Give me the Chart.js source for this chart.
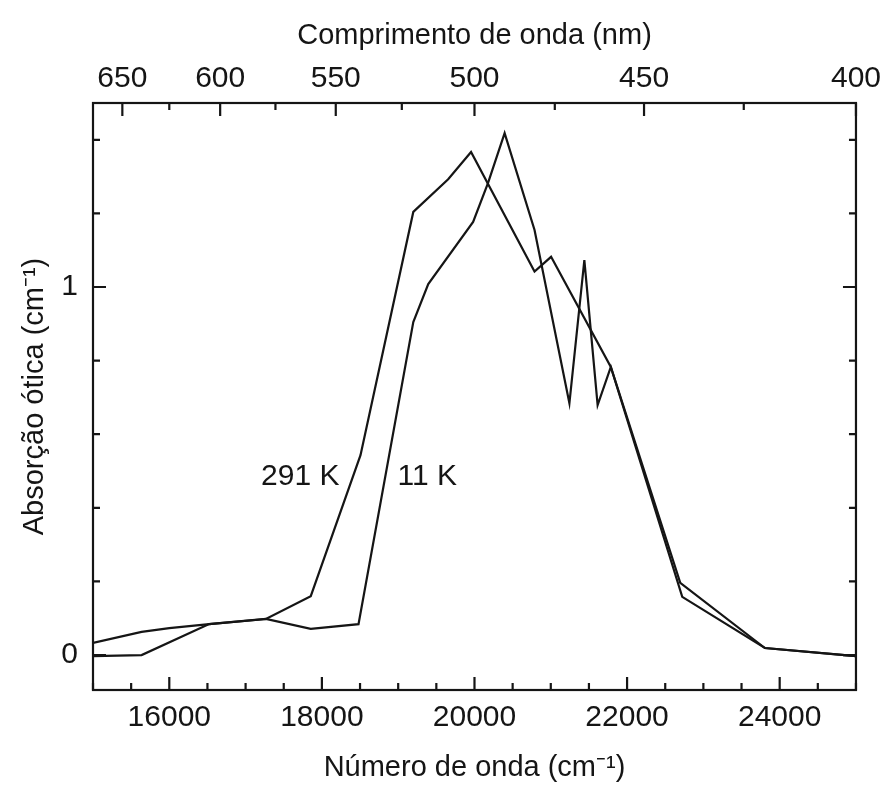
<!DOCTYPE html>
<html>
<head>
<meta charset="utf-8">
<script src="https://cdn.jsdelivr.net/npm/chart.js@4.4.0/dist/chart.umd.min.js"></script>
<style>
  html, body { margin: 0; padding: 0; background: #fff; }
  #wrap { width: 887px; height: 786px; }
</style>
</head>
<body>
<div id="wrap"><canvas id="chart" width="887" height="786"></canvas></div>
<script>
// Spectrum at 291 K (wavenumber in cm-1, absorption in cm-1)
const wn291 = [15000, 15637, 16000, 16522, 17266, 17854, 18506, 19198, 19655, 19955, 20787, 21004, 21787, 22723, 23806, 25000];
const abs291 = [0.033, 0.063, 0.073, 0.084, 0.098, 0.160, 0.543, 1.204, 1.293, 1.367, 1.042, 1.082, 0.783, 0.158, 0.019, -0.003];

// Spectrum at 11 K
const wn11 = [15000, 15637, 16522, 17266, 17854, 18480, 19198, 19394, 19982, 20178, 20395, 20787, 21244, 21440, 21614, 21787, 22697, 23806, 25000];
const abs11 = [-0.003, 0.000, 0.084, 0.098, 0.071, 0.084, 0.905, 1.008, 1.177, 1.283, 1.418, 1.155, 0.684, 1.073, 0.679, 0.783, 0.196, 0.019, -0.003];

// Axis ticks
const wnLabels = [16000, 18000, 20000, 22000, 24000];
const wnMinorStep = 500;
const nmLabels = [650, 600, 550, 500, 450, 400];
const nmMinor = [625, 575, 525, 475, 425];
const absLabels = [0, 1];
const absMinor = [0.2, 0.4, 0.6, 0.8, 1.2, 1.4];

// Curve names written next to the curves
const curveNames = [
  { text: '291 K', x: 17717, y: 0.484 },
  { text: '11 K', x: 19381, y: 0.484 }
];

const FONT = "'Liberation Sans', Arial, Helvetica, sans-serif";
const INK = '#151515';
const tickFont = { family: FONT, size: 30 };
const titleFont = { family: FONT, size: 29 };

function toPoints(xs, ys) {
  return xs.map((x, i) => ({ x: x, y: ys[i] }));
}

// Frame and inward tick marks on all four sides
const frameTicks = {
  id: 'frameTicks',
  afterDatasetsDraw(chart) {
    const { ctx, chartArea: a, scales } = chart;
    const sx = scales.x, sy = scales.y;
    const big = 13, small = 7;
    ctx.save();
    ctx.strokeStyle = INK;
    ctx.lineWidth = 2.2;
    ctx.strokeRect(a.left, a.top, a.right - a.left, a.bottom - a.top);
    ctx.beginPath();
    // bottom (wavenumber)
    for (let v = sx.min; v <= sx.max; v += wnMinorStep) {
      const px = sx.getPixelForValue(v);
      const len = wnLabels.includes(v) ? big : small;
      ctx.moveTo(px, a.bottom);
      ctx.lineTo(px, a.bottom - len);
    }
    // top (wavelength)
    nmLabels.concat(nmMinor).forEach(nm => {
      const px = sx.getPixelForValue(1e7 / nm);
      const len = nmLabels.includes(nm) ? big : small;
      ctx.moveTo(px, a.top);
      ctx.lineTo(px, a.top + len);
    });
    // left and right
    absLabels.concat(absMinor).forEach(v => {
      const py = sy.getPixelForValue(v);
      const len = absLabels.includes(v) ? big : small;
      ctx.moveTo(a.left, py);
      ctx.lineTo(a.left + len, py);
      ctx.moveTo(a.right, py);
      ctx.lineTo(a.right - len, py);
    });
    ctx.stroke();

    // curve names
    ctx.fillStyle = INK;
    ctx.font = `30px ${FONT}`;
    ctx.textAlign = 'center';
    ctx.textBaseline = 'middle';
    curveNames.forEach(c => {
      ctx.fillText(c.text, sx.getPixelForValue(c.x), sy.getPixelForValue(c.y));
    });
    ctx.restore();
  }
};

const lineStyle = {
  borderColor: INK,
  borderWidth: 2.2,
  pointRadius: 0,
  tension: 0,
  fill: false
};

new Chart(document.getElementById('chart'), {
  type: 'line',
  data: {
    datasets: [
      Object.assign({ label: '291 K', data: toPoints(wn291, abs291) }, lineStyle),
      Object.assign({ label: '11 K', data: toPoints(wn11, abs11) }, lineStyle)
    ]
  },
  options: {
    responsive: false,
    animation: false,
    devicePixelRatio: 1,
    layout: { padding: { left: 0, right: 27, top: 0, bottom: 0 } },
    plugins: {
      legend: { display: false },
      tooltip: { enabled: false }
    },
    scales: {
      x: {
        type: 'linear',
        position: 'bottom',
        min: 15000,
        max: 25000,
        afterBuildTicks: s => { s.ticks = wnLabels.map(v => ({ value: v })); },
        ticks: { padding: 10, color: INK, font: tickFont, maxRotation: 0, autoSkip: false, callback: v => String(v) },
        grid: { display: false, drawTicks: false },
        border: { display: false },
        title: { display: true, text: 'Número de onda (cm⁻¹)', color: INK, font: titleFont, padding: { top: 0, bottom: 1 } },
        afterFit: s => { s.height = 96; }
      },
      xTop: {
        type: 'linear',
        axis: 'x',
        position: 'top',
        min: 15000,
        max: 25000,
        afterBuildTicks: s => { s.ticks = nmLabels.map(nm => ({ value: 1e7 / nm })); },
        ticks: { padding: 6, color: INK, font: tickFont, maxRotation: 0, autoSkip: false, callback: v => String(Math.round(1e7 / v)) },
        grid: { display: false, drawTicks: false },
        border: { display: false },
        title: { display: true, text: 'Comprimento de onda (nm)', color: INK, font: titleFont, padding: { top: 19, bottom: 0 } },
        afterFit: s => { s.height = 103; }
      },
      y: {
        type: 'linear',
        position: 'left',
        min: -0.095,
        max: 1.5,
        afterBuildTicks: s => { s.ticks = absLabels.map(v => ({ value: v })); },
        ticks: { padding: 15, color: INK, font: tickFont, callback: v => String(v) },
        grid: { display: false, drawTicks: false },
        border: { display: false },
        title: { display: true, text: 'Absorção ótica (cm⁻¹)', color: INK, font: titleFont, padding: { top: 18, bottom: 0 } },
        afterFit: s => { s.width = 93; }
      }
    }
  },
  plugins: [frameTicks]
});
</script>
</body>
</html>
